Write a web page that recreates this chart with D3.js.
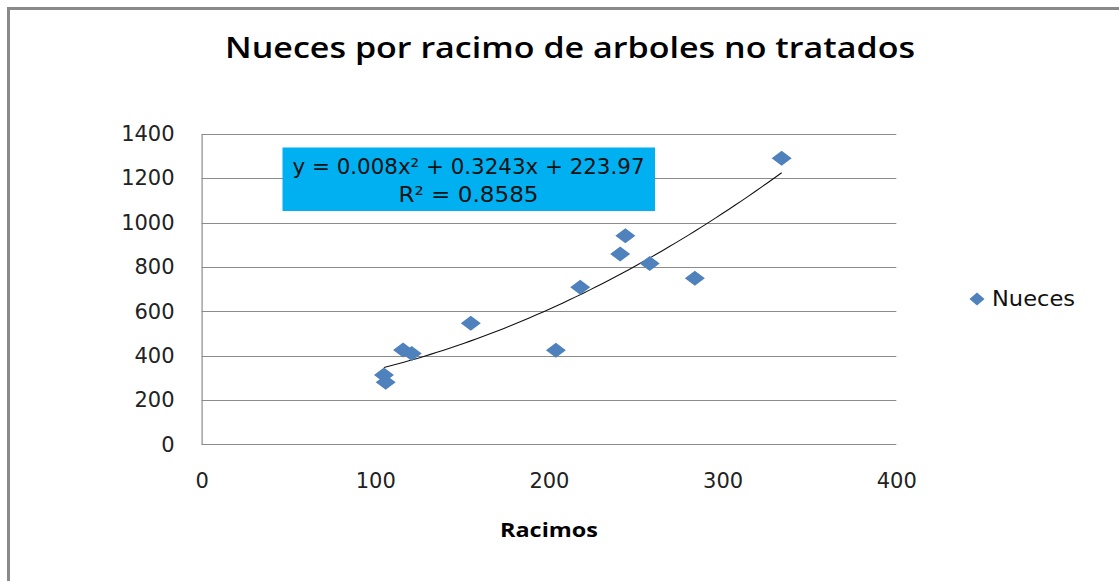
<!DOCTYPE html>
<html>
<head>
<meta charset="utf-8">
<script src="https://cdn.jsdelivr.net/npm/d3@7"></script>
<style>
  html, body { margin: 0; padding: 0; background: #fff; }
  svg { display: block; }
</style>
</head>
<body>
<div id="chart"></div>
<script>
// values
const racimos = [334, 244, 241, 258, 218, 284, 155, 204, 116, 121, 105, 106];
const nueces = [1290, 941, 858, 815, 708, 749, 546, 424, 425, 410, 313, 280];
const xTicks = [0, 100, 200, 300, 400];
const yTicks = [0, 200, 400, 600, 800, 1000, 1200, 1400];
// trendline y = c0 + c1*x + c2*x^2 (as printed on the chart)
const trendCoef = [223.97, 0.3243, 0.008];
const equationLines = ["y = 0.008x\u00B2 + 0.3243x + 223.97", "R\u00B2 = 0.8585"];
const seriesName = "Nueces";

const width = 1119;
const height = 581;
const marginLeft = 201.6;
const marginRight = width - 896.3;
const marginTop = 133.9;
const marginBottom = height - 444.3;

const svg = d3.select("#chart").append("svg")
    .attr("width", width)
    .attr("height", height);

// outer frame (only top and left visible)
svg.append("path")
    .attr("d", `M8.5,${height} V8.5 H${width}`)
    .attr("fill", "none")
    .attr("stroke", "#8a8a8a")
    .attr("stroke-width", 3);

const x = d3.scaleLinear().domain([0, 400]).range([marginLeft, width - marginRight]);
const y = d3.scaleLinear().domain([0, 1400]).range([height - marginBottom, marginTop]);

// title
svg.append("text")
    .text("Nueces por racimo de arboles no tratados")
    .attr("x", 570).attr("y", 58)
    .attr("text-anchor", "middle")
    .attr("textLength", 690)
    .attr("lengthAdjust", "spacingAndGlyphs")
    .style("font-family", "'Open Sans', sans-serif")
    .style("font-weight", "600")
    .style("font-size", "29px")
    .attr("fill", "#000");

// gridlines
svg.append("g")
    .selectAll("line")
    .data(yTicks)
    .join("line")
      .attr("x1", x(0)).attr("x2", x(400))
      .attr("y1", d => Math.round(y(d)) + 0.5)
      .attr("y2", d => Math.round(y(d)) + 0.5)
      .attr("stroke", "#8c8c8c")
      .attr("stroke-width", 1.2);

// y axis
const yAxis = d3.axisLeft(y).tickValues(yTicks).tickFormat(d3.format("d")).tickSize(0).tickPadding(27);
svg.append("g")
    .attr("transform", `translate(${x(0)},0)`)
    .call(yAxis)
    .call(g => g.select(".domain").attr("stroke", "#8c8c8c").attr("stroke-width", 1.2))
    .call(g => g.selectAll("text")
      .style("font-family", "'DejaVu Sans', sans-serif")
      .style("font-size", "21px")
      .attr("fill", "#222"));

// x axis (labels only)
const xAxis = d3.axisBottom(x).tickValues(xTicks).tickFormat(d3.format("d")).tickSize(0).tickPadding(29);
svg.append("g")
    .attr("transform", `translate(0,${y(0)})`)
    .call(xAxis)
    .call(g => g.select(".domain").remove())
    .call(g => g.selectAll("text")
      .style("font-family", "'DejaVu Sans', sans-serif")
      .style("font-size", "21px")
      .attr("fill", "#222"));

// x title
svg.append("text")
    .text("Racimos")
    .attr("x", 549).attr("y", 537)
    .attr("text-anchor", "middle")
    .attr("textLength", 98)
    .attr("lengthAdjust", "spacingAndGlyphs")
    .style("font-family", "'Open Sans', sans-serif")
    .style("font-weight", "bold")
    .style("font-size", "20px")
    .attr("fill", "#000");

// trendline
const ext = d3.extent(racimos);
const trendPts = d3.range(ext[0], ext[1] + 0.01, (ext[1] - ext[0]) / 60)
    .map(v => [v, trendCoef[0] + trendCoef[1] * v + trendCoef[2] * v * v]);
svg.append("path")
    .datum(trendPts)
    .attr("d", d3.line().x(d => x(d[0])).y(d => y(d[1])))
    .attr("fill", "none")
    .attr("stroke", "#111")
    .attr("stroke-width", 1.1);

// diamonds
const diamond = (w, h) => `M0,${-h / 2} L${w / 2},0 L0,${h / 2} L${-w / 2},0 Z`;
const points = racimos.map((r, i) => ({ r, n: nueces[i] }));
svg.append("g")
    .selectAll("path")
    .data(points)
    .join("path")
      .attr("transform", d => `translate(${x(d.r)},${y(d.n)})`)
      .attr("d", diamond(20, 15))
      .attr("fill", "#4f81bd");

// equation box
const box = svg.append("g");
box.append("rect")
    .attr("x", 282.5).attr("y", 147.5)
    .attr("width", 372.5).attr("height", 63.5)
    .attr("fill", "#00b0f0");
box.selectAll("text")
    .data(equationLines)
    .join("text")
      .text(d => d)
      .attr("x", 468.5)
      .attr("y", (d, i) => 174 + i * 28)
      .attr("text-anchor", "middle")
      .attr("textLength", (d, i) => i === 0 ? 352 : 140)
      .attr("lengthAdjust", "spacingAndGlyphs")
      .style("font-family", "'DejaVu Sans', sans-serif")
      .style("font-size", "21px")
      .attr("fill", "#111");

// legend
const legend = svg.append("g").attr("transform", "translate(977,299)");
legend.append("path").attr("d", diamond(15, 13)).attr("fill", "#4f81bd");
legend.append("text")
    .text(seriesName)
    .attr("x", 15).attr("y", 7)
    .attr("textLength", 83)
    .attr("lengthAdjust", "spacingAndGlyphs")
    .style("font-family", "'DejaVu Sans', sans-serif")
    .style("font-size", "21px")
    .attr("fill", "#111");
</script>
</body>
</html>
